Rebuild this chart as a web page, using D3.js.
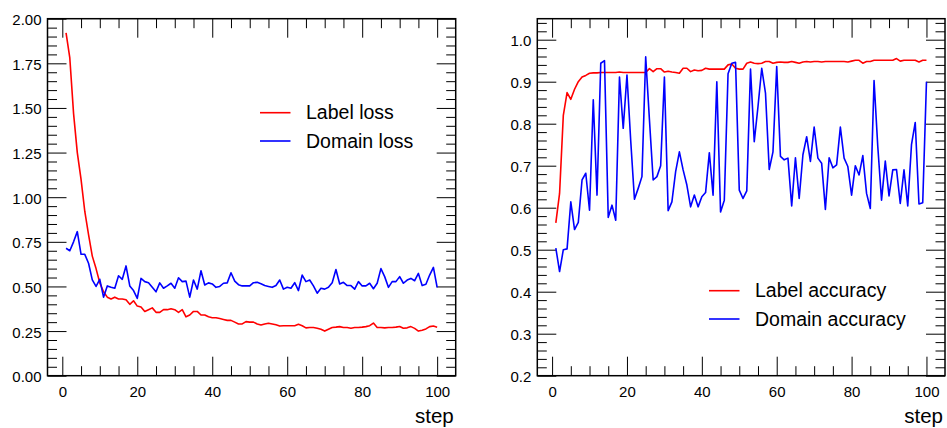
<!DOCTYPE html>
<html>
<head>
<meta charset="utf-8">
<script src="https://cdn.jsdelivr.net/npm/d3@7"></script>
<style>
  body { margin: 0; background: #fff; }
  svg { display: block; font-family: "Liberation Sans", Arial, sans-serif; }
  .tick line { stroke: #000; stroke-width: 1; }
  .tick text { font-family: "Liberation Sans", Arial, sans-serif; font-size: 15px; fill: #000; }
</style>
</head>
<body>
<svg width="947" height="428"></svg>
<script>
var svg = d3.select('svg');

// training steps 1..100
var steps = d3.range(1, 101);

var labelLoss = [1.92, 1.78, 1.47, 1.25, 1.10, 0.92, 0.79, 0.67, 0.60, 0.52,
    0.47, 0.44, 0.43, 0.44, 0.43, 0.43, 0.425, 0.40, 0.42, 0.39,
    0.385, 0.36, 0.37, 0.38, 0.355, 0.355, 0.37, 0.37, 0.375, 0.37,
    0.355, 0.37, 0.33, 0.34, 0.36, 0.36, 0.34, 0.34, 0.33, 0.325,
    0.325, 0.32, 0.315, 0.31, 0.31, 0.30, 0.29, 0.29, 0.303, 0.30,
    0.30, 0.29, 0.284, 0.29, 0.294, 0.29, 0.285, 0.278, 0.28, 0.28,
    0.28, 0.28, 0.288, 0.28, 0.268, 0.27, 0.27, 0.266, 0.26, 0.25,
    0.26, 0.27, 0.272, 0.275, 0.27, 0.27, 0.266, 0.27, 0.27, 0.272,
    0.275, 0.28, 0.295, 0.27, 0.27, 0.268, 0.27, 0.27, 0.272, 0.276,
    0.266, 0.268, 0.275, 0.265, 0.25, 0.255, 0.262, 0.275, 0.278, 0.272];

var domainLoss = [0.714, 0.70, 0.75, 0.807, 0.68, 0.68, 0.63, 0.537, 0.50, 0.54,
    0.44, 0.503, 0.495, 0.49, 0.56, 0.54, 0.615, 0.503, 0.477, 0.433,
    0.545, 0.527, 0.521, 0.495, 0.47, 0.52, 0.49, 0.503, 0.518, 0.49,
    0.549, 0.527, 0.53, 0.44, 0.536, 0.485, 0.588, 0.508, 0.52, 0.514,
    0.495, 0.50, 0.518, 0.52, 0.577, 0.53, 0.51, 0.503, 0.503, 0.503,
    0.521, 0.523, 0.515, 0.505, 0.50, 0.495, 0.505, 0.536, 0.485, 0.495,
    0.49, 0.521, 0.477, 0.564, 0.527, 0.536, 0.503, 0.462, 0.49, 0.485,
    0.495, 0.521, 0.595, 0.514, 0.523, 0.505, 0.505, 0.485, 0.527, 0.503,
    0.503, 0.518, 0.487, 0.518, 0.60, 0.555, 0.495, 0.527, 0.527, 0.555,
    0.518, 0.536, 0.545, 0.532, 0.573, 0.505, 0.512, 0.564, 0.607, 0.495];

var labelAcc = [0.564, 0.634, 0.82, 0.874, 0.858, 0.882, 0.90, 0.911, 0.915, 0.92,
    0.921, 0.921, 0.922, 0.922, 0.922, 0.922, 0.922, 0.923, 0.922, 0.922,
    0.922, 0.922, 0.922, 0.922, 0.922, 0.931, 0.924, 0.931, 0.931, 0.923,
    0.925, 0.923, 0.922, 0.92, 0.932, 0.932, 0.924, 0.928, 0.926, 0.927,
    0.932, 0.93, 0.93, 0.93, 0.93, 0.93, 0.94, 0.942, 0.932, 0.93,
    0.93, 0.944, 0.947, 0.944, 0.943, 0.944, 0.948, 0.948, 0.944, 0.946,
    0.947, 0.946, 0.946, 0.948, 0.946, 0.944, 0.947, 0.948, 0.947, 0.948,
    0.948, 0.947, 0.948, 0.948, 0.948, 0.948, 0.948, 0.948, 0.947, 0.949,
    0.951, 0.951, 0.944, 0.948, 0.948, 0.951, 0.951, 0.951, 0.951, 0.951,
    0.951, 0.955, 0.949, 0.951, 0.951, 0.951, 0.951, 0.947, 0.951, 0.951];

var domainAcc = [0.504, 0.448, 0.50, 0.502, 0.614, 0.548, 0.565, 0.666, 0.682, 0.594,
    0.857, 0.63, 0.944, 0.95, 0.577, 0.606, 0.57, 0.911, 0.789, 0.916,
    0.76, 0.62, 0.646, 0.674, 0.959, 0.81, 0.666, 0.674, 0.70, 0.911,
    0.593, 0.614, 0.686, 0.733, 0.69, 0.654, 0.602, 0.63, 0.602, 0.626,
    0.636, 0.731, 0.63, 0.90, 0.59, 0.618, 0.919, 0.944, 0.946, 0.642,
    0.622, 0.64, 0.93, 0.757, 0.841, 0.932, 0.873, 0.691, 0.733, 0.936,
    0.722, 0.714, 0.718, 0.604, 0.719, 0.622, 0.726, 0.769, 0.71, 0.792,
    0.718, 0.706, 0.596, 0.719, 0.695, 0.702, 0.792, 0.718, 0.698, 0.63,
    0.70, 0.678, 0.724, 0.634, 0.598, 0.903, 0.745, 0.618, 0.711, 0.628,
    0.69, 0.691, 0.61, 0.69, 0.604, 0.75, 0.803, 0.609, 0.612, 0.90];

var xMajor = [0, 20, 40, 60, 80, 100];
var xMinor = [5, 10, 15, 25, 30, 35, 45, 50, 55, 65, 70, 75, 85, 90, 95];
var lossTicks = [0, 0.25, 0.5, 0.75, 1.0, 1.25, 1.5, 1.75, 2.0];
var accTicks = [0.2, 0.3, 0.4, 0.5, 0.6, 0.7, 0.8, 0.9, 1.0];

var plotTop = 18.7, plotBottom = 375.7;

function drawPanel(opts) {
    var x = d3.scaleLinear().domain([-3.95, 104.95]).range([opts.left, opts.right]);
    var y = d3.scaleLinear().domain(opts.yDomain).range([plotBottom, plotTop]);
    var g = svg.append('g');

    // minor ticks, all four sides, pointing inward
    var yMinor = opts.minorY.filter(v => opts.yTicks.indexOf(+v.toFixed(3)) < 0);
    g.append('g').attr('transform', 'translate(0,' + plotBottom + ')')
        .call(d3.axisBottom(x).tickValues(xMinor).tickSizeInner(-9.5).tickSizeOuter(0).tickFormat(''));
    g.append('g').attr('transform', 'translate(0,' + plotTop + ')')
        .call(d3.axisTop(x).tickValues(xMinor).tickSizeInner(-9.5).tickSizeOuter(0).tickFormat(''));
    g.append('g').attr('transform', 'translate(' + opts.left + ',0)')
        .call(d3.axisLeft(y).tickValues(yMinor).tickSizeInner(-9.5).tickSizeOuter(0).tickFormat(''));
    g.append('g').attr('transform', 'translate(' + opts.right + ',0)')
        .call(d3.axisRight(y).tickValues(yMinor).tickSizeInner(-9.5).tickSizeOuter(0).tickFormat(''));

    // major ticks + labels
    g.append('g').attr('transform', 'translate(0,' + plotBottom + ')')
        .call(d3.axisBottom(x).tickValues(xMajor).tickSizeInner(-19).tickSizeOuter(0).tickPadding(10.5));
    g.append('g').attr('transform', 'translate(0,' + plotTop + ')')
        .call(d3.axisTop(x).tickValues(xMajor).tickSizeInner(-19).tickSizeOuter(0).tickFormat(''));
    g.append('g').attr('transform', 'translate(' + opts.left + ',0)')
        .call(d3.axisLeft(y).tickValues(opts.yTicks).tickSizeInner(-19).tickSizeOuter(0)
            .tickPadding(6).tickFormat(d3.format(opts.fmt)))
        .selectAll('text').attr('dy', '0.4em');
    g.append('g').attr('transform', 'translate(' + opts.right + ',0)')
        .call(d3.axisRight(y).tickValues(opts.yTicks).tickSizeInner(-19).tickSizeOuter(0).tickFormat(''));

    g.selectAll('.domain').remove();

    g.append('rect')
        .attr('x', opts.left).attr('y', plotTop)
        .attr('width', opts.right - opts.left).attr('height', plotBottom - plotTop)
        .attr('fill', 'none').attr('stroke', '#000').attr('stroke-width', 1.5);

    var line = d3.line().x((d, i) => x(steps[i])).y(d => y(d));
    opts.series.forEach(s => {
        g.append('path')
            .datum(s.values)
            .attr('d', line)
            .attr('fill', 'none')
            .attr('stroke', s.color)
            .attr('stroke-width', 1.6)
            .attr('stroke-linejoin', 'round');
    });

    // legend
    opts.series.forEach((s, i) => {
        var ly = opts.legendY + i * 28.3;
        g.append('line')
            .attr('x1', opts.legendX).attr('x2', opts.legendX + 30.5)
            .attr('y1', ly).attr('y2', ly)
            .attr('stroke', s.color).attr('stroke-width', 1.6);
        g.append('text')
            .attr('x', opts.legendX + 46).attr('y', ly + 6.5)
            .style('font-size', '19.5px')
            .text(s.name);
    });

    g.append('text')
        .attr('x', opts.right - 2).attr('y', 422.5)
        .attr('text-anchor', 'end')
        .style('font-size', '20.5px')
        .text('step');
}

drawPanel({
    left: 47.5, right: 455.7,
    yDomain: [0, 2], yTicks: lossTicks, fmt: '.2f',
    minorY: d3.range(0, 2.001, 0.05),
    legendX: 260, legendY: 112.7,
    series: [
        {name: 'Label loss', values: labelLoss, color: '#ff0000'},
        {name: 'Domain loss', values: domainLoss, color: '#0000ff'}
    ]
});

drawPanel({
    left: 537.3, right: 945,
    yDomain: [0.2, 1.05], yTicks: accTicks, fmt: '.1f',
    minorY: d3.range(0.2, 1.05, 0.02),
    legendX: 709, legendY: 290.7,
    series: [
        {name: 'Label accuracy', values: labelAcc, color: '#ff0000'},
        {name: 'Domain accuracy', values: domainAcc, color: '#0000ff'}
    ]
});
</script>
</body>
</html>
